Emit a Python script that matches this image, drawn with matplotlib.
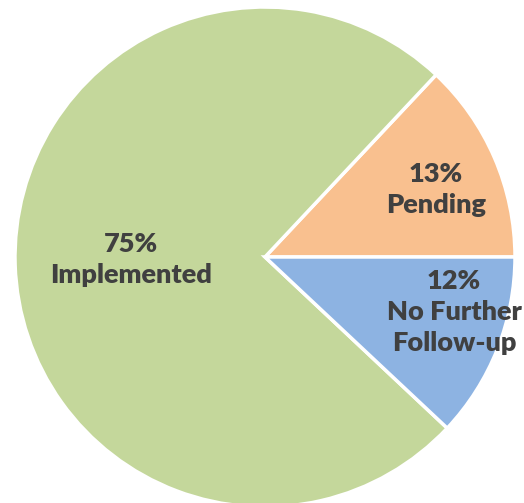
import matplotlib.pyplot as plt

# Slice data (counter-clockwise from 3 o'clock)
categories = ["Pending", "Implemented", "No Further\nFollow-up"]
values = [13, 75, 12]
colors = ["#F9C08F", "#C4D79B", "#8DB3E2"]

# label anchor points in data coords (pie radius = 1)
label_pos = [(0.684, 0.27), (-0.536, -0.01), (0.756, -0.22)]

fig = plt.figure(figsize=(5.24, 5.03), dpi=100)
ax = fig.add_axes([0, 0, 1, 1])

wedges, _ = ax.pie(values, colors=colors, startangle=0, counterclock=True,
                   radius=1.0, wedgeprops=dict(edgecolor="white", linewidth=2.5))

for cat, val, (x, y) in zip(categories, values, label_pos):
    ax.text(x, y, f"{val}%\n{cat}", ha="center", va="center",
            fontsize=19.5, fontweight="heavy", color="#404040",
            family="Lato", linespacing=1.35)

ax.set_xlim(-1.06, 1.036)
ax.set_ylim(-0.984, 1.028)
ax.set_aspect("auto")
ax.axis("off")

fig.savefig("out.png", dpi=100)
